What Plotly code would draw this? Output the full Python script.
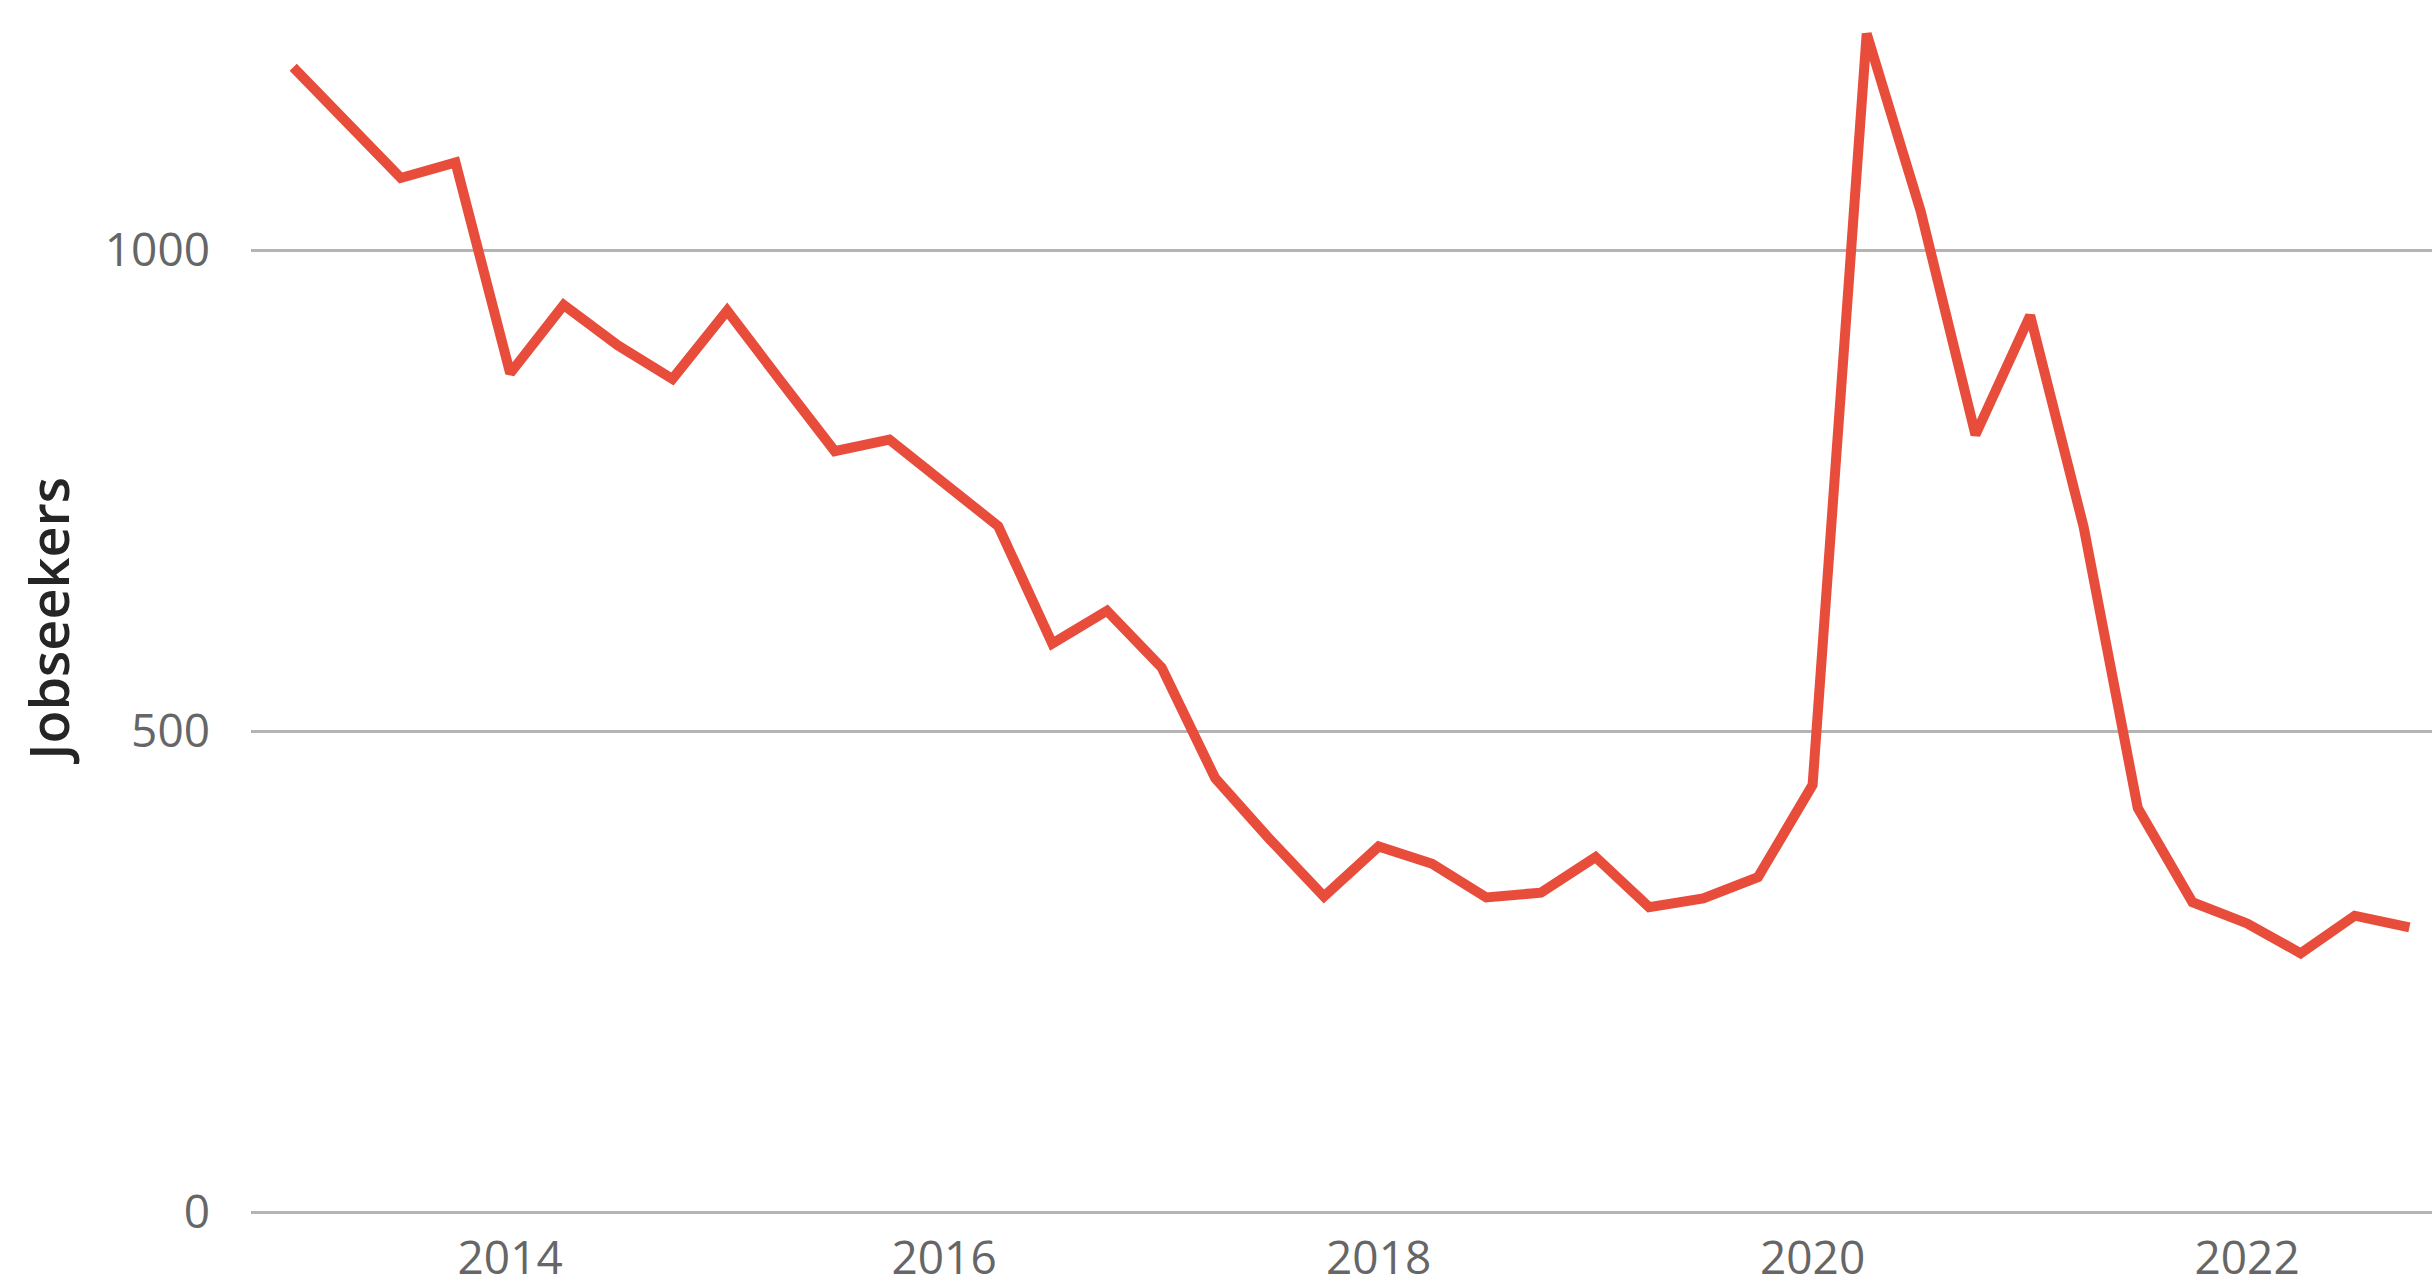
import plotly.graph_objects as go

# Quarterly observation dates (quarter starts)
quarters = [
    "2013-01-01", "2013-04-01", "2013-07-01", "2013-10-01",
    "2014-01-01", "2014-04-01", "2014-07-01", "2014-10-01",
    "2015-01-01", "2015-04-01", "2015-07-01", "2015-10-01",
    "2016-01-01", "2016-04-01", "2016-07-01", "2016-10-01",
    "2017-01-01", "2017-04-01", "2017-07-01", "2017-10-01",
    "2018-01-01", "2018-04-01", "2018-07-01", "2018-10-01",
    "2019-01-01", "2019-04-01", "2019-07-01", "2019-10-01",
    "2020-01-01", "2020-04-01", "2020-07-01", "2020-10-01",
    "2021-01-01", "2021-04-01", "2021-07-01", "2021-10-01",
    "2022-01-01", "2022-04-01", "2022-07-01", "2022-10-01",
]

jobseekers = [
    1190, 1134, 1075, 1091,
    872, 943, 901, 866,
    937, 864, 791, 803,
    758, 713, 591, 625,
    566, 451, 388, 328,
    380, 362, 327, 332,
    369, 317, 326, 348,
    444, 1225, 1040, 808,
    932, 712, 420, 322,
    300, 269, 308, 296,
]

y_ticks = [0, 500, 1000]
x_ticks = ["2014-01-01", "2016-01-01", "2018-01-01", "2020-01-01", "2022-01-01"]
x_tick_labels = ["2014", "2016", "2018", "2020", "2022"]
y_title = "Jobseekers"

LINE_COLOR = "#E84C3B"
GRID_COLOR = "#B4B4B4"
TICK_COLOR = "#666666"

fig = go.Figure()
fig.add_trace(go.Scatter(
    x=quarters, y=jobseekers, mode="lines",
    line=dict(color=LINE_COLOR, width=10),
    hoverinfo="skip", showlegend=False,
))

fig.update_layout(
    width=2432, height=1287,
    margin=dict(l=251, r=0, t=0, b=71, pad=0),
    paper_bgcolor="white", plot_bgcolor="white",
    font=dict(family="Open Sans", size=46, color=TICK_COLOR),
    xaxis=dict(
        type="date",
        range=["2012-10-22", "2022-11-08"],
        tickvals=x_ticks, ticktext=x_tick_labels,
        showgrid=False, zeroline=False, showline=False,
        ticks="", ticklabelstandoff=15,
        tickfont=dict(family="Open Sans", size=46, color=TICK_COLOR),
    ),
    yaxis=dict(
        range=[0, 1260],
        tickvals=y_ticks,
        showgrid=True, gridcolor=GRID_COLOR, gridwidth=3,
        zeroline=True, zerolinecolor=GRID_COLOR, zerolinewidth=3,
        showline=False, ticks="", ticklabelstandoff=40,
        tickfont=dict(family="Open Sans", size=46, color=TICK_COLOR),
    ),
    annotations=[dict(
        text=y_title, xref="paper", yref="paper",
        x=-0.0932, y=0.4876, xanchor="center", yanchor="middle",
        textangle=-90, showarrow=False,
        font=dict(family="Open Sans", size=54, color="#252525", weight=600),
    )],
)

fig.write_html("out.html", config={"displayModeBar": False},
               post_script="document.body.style.margin='0';document.body.style.overflow='hidden';")
